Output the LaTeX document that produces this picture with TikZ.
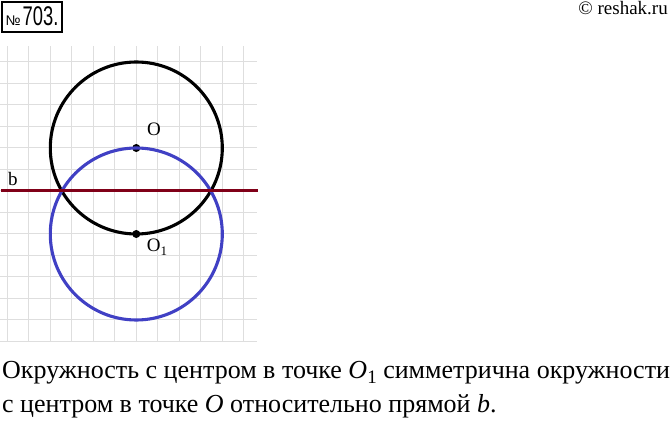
\documentclass[tikz,border=0pt]{standalone}
\usepackage{fontspec}
\setmainfont{Liberation Serif}
\newfontfamily\headfont{Liberation Sans}
\usepackage{graphicx}

\definecolor{lineb}{RGB}{128,0,24}
\definecolor{circblue}{RGB}{64,64,196}

\tikzset{%
  >=latex,
  gridline/.style={draw=black!13, line width=1pt},
  circ/.style={line width=3.1pt},
  dot/.style={circle, fill, inner sep=0pt, minimum size=8pt},
  lbl/.style={font=\fontsize{19}{19}\selectfont, inner sep=0pt},
  txt/.style={font=\fontsize{26}{32}\selectfont, inner sep=0pt, anchor=base west}
}

\begin{document}
\begin{tikzpicture}[x=1pt,y=-1pt]
     \useasboundingbox (0,0) rectangle (672,427);
     % grid
     \foreach \k in {0,...,11}
       \draw[gridline] (7.3+21.5*\k,46.5) -- (7.3+21.5*\k,342);
     \foreach \k in {0,...,13}
       \draw[gridline] (0,62+21.5*\k) -- (257,62+21.5*\k);

     % centres
     \node[dot] (O) at (136.3,148) {};
     \node[dot] (O1) at (136.3,234) {};
     \node[lbl] at (154,129) {O};
     \node[lbl] at (157,247) {O\raisebox{-0.4ex}{\fontsize{13}{13}\selectfont 1}};

     \draw[circ] (O) circle (86);
     \draw[circ, circblue] (O1) circle (86);

     % line b
     \coordinate (bL) at (1,191);
     \coordinate (bR) at (258,191);
     \draw[lineb, line width=3pt] (bL) -- (bR);
     \node[lbl] at (13,179) {b};

     % header
     \node[draw, line width=1.7pt, minimum width=60.6pt, minimum height=30pt, inner sep=0pt] (num) at (32,16.7)
       {{\headfont\fontsize{14}{14}\selectfont №}\hspace{2pt}\scalebox{0.68}[1]{\headfont\fontsize{27}{27}\selectfont 703.}};
     \node[anchor=base east, inner sep=0pt, font=\fontsize{19}{19}\selectfont] (copy) at (668,15) {© reshak.ru};

     % answer
     \node[txt] (line1) at (2,379) {Окружность с центром в точке \textit{O}\raisebox{-0.35ex}{\fontsize{19}{19}\selectfont 1} симметрична окружности};
     \node[txt] (line2) at (2,413) {с центром в точке \textit{O} относительно прямой \textit{b}.};
\end{tikzpicture}
\end{document}
